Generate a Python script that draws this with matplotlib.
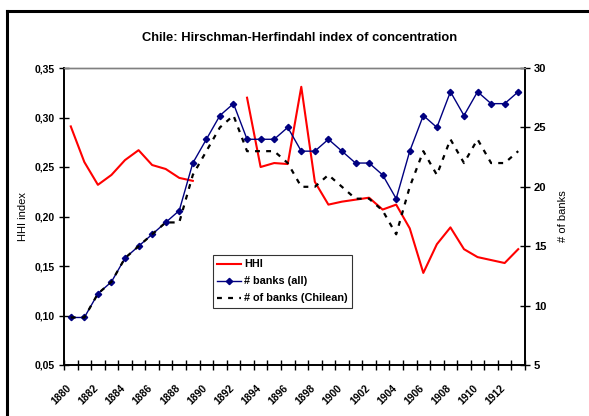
import matplotlib
matplotlib.use("Agg")
import matplotlib.pyplot as plt
import matplotlib.transforms as mtransforms
import numpy as np
from matplotlib.lines import Line2D

years = list(range(1880, 1914))
hhi = [0.291, 0.255, 0.232, 0.242, 0.257, 0.267, 0.252, 0.248, 0.239, 0.236,
       np.nan, np.nan, np.nan, 0.320, 0.250, 0.254, 0.253, 0.331, 0.235, 0.212,
       0.215, 0.217, 0.219, 0.207, 0.212, 0.188, 0.143, 0.172, 0.189, 0.167,
       0.159, 0.156, 0.153, 0.167]
banks_all = [9, 9, 11, 12, 14, 15, 16, 17, 18, 22, 24, 26, 27, 24, 24, 24, 25, 23,
             23, 24, 23, 22, 22, 21, 19, 23, 26, 25, 28, 26, 28, 27, 27, 28]
banks_chilean = [9, 9, 11, 12, 14, 15, 16, 17, 17, 21, 23, 25, 26, 23, 23, 23, 22, 20,
                 20, 21, 20, 19, 19, 18, 16, 20, 23, 21, 24, 22, 24, 22, 22, 23]
xlabels = [str(y) for y in years[::2]]
yticks_left = [0.05, 0.10, 0.15, 0.20, 0.25, 0.30, 0.35]
yticks_right = [5, 10, 15, 20, 25, 30]

plt.rcParams['font.family'] = ['Liberation Sans', 'DejaVu Sans']

fig = plt.figure(figsize=(5.89, 4.16), dpi=100)
W, H = 589, 416
L, R, T, B = 64, 525, 68, 365
ax = fig.add_axes([L / W, 1 - B / H, (R - L) / W, (B - T) / H])
ax2 = ax.twinx()

x = np.arange(len(years))
ax.plot(x, hhi, color='#FF0000', lw=1.5, label='HHI', zorder=3)
l2, = ax2.plot(x, banks_all, color='#000080', lw=1.0, marker='D', ms=3.2,
               label='# banks (all)', zorder=2)
l3, = ax2.plot(x, banks_chilean, color='black', lw=1.6, ls=(0, (2.2, 2.8)),
               label='# of banks (Chilean)', zorder=3)

ax.set_xlim(-0.5, len(years) - 0.5)
ax.set_ylim(0.05, 0.35)
ax2.set_ylim(5, 30)

ax.set_yticks(yticks_left)
ax.set_yticklabels([f"{v:.2f}".replace('.', ',') for v in yticks_left],
                   fontsize=7.5, fontweight='bold')
ax2.set_yticks(yticks_right)
ax2.set_yticklabels([str(v) for v in yticks_right], fontsize=8, fontweight='bold')

# category tick marks at boundaries, year labels every 2 years
ax.set_xticks(np.arange(-0.5, len(years), 1.0))
ax.set_xticklabels([])
ax.tick_params(axis='x', direction='inout', length=7, width=1)
ax.tick_params(axis='y', direction='inout', length=7, width=1, pad=3)
ax2.tick_params(axis='y', direction='inout', length=7, width=1, pad=3)

base = mtransforms.blended_transform_factory(ax.transData, ax.transAxes)
off = mtransforms.ScaledTranslation(-4.5 / 100, -18 / 100, fig.dpi_scale_trans)
for xi, lab in zip(x[::2], xlabels):
    ax.text(xi, 0, lab, transform=base + off, rotation=45, ha='right', va='top',
            rotation_mode='anchor', fontsize=7.5, fontweight='bold', clip_on=False)

for a in (ax, ax2):
    a.spines['top'].set_color('#808080')
    a.spines['top'].set_linewidth(1)
    for s in ('left', 'right', 'bottom'):
        a.spines[s].set_linewidth(1.2)
        a.spines[s].set_color('black')

ax.set_ylabel('HHI index', fontsize=8)
ax2.set_ylabel('# of banks', fontsize=8)
ax.yaxis.set_label_coords((28 - L) / (R - L), 0.5)
ax2.yaxis.set_label_coords((558 - L) / (R - L), 0.5)

fig.text(300 / W, 1 - 38 / H, 'Chile: Hirschman-Herfindahl index of concentration',
         ha='center', va='center', fontsize=9.3, fontweight='bold')

handles = [ax.get_lines()[0], l2, l3]
leg = fig.legend(handles, [h.get_label() for h in handles],
                 loc='upper left', bbox_to_anchor=(213 / W, 1 - 255 / H),
                 prop={'weight': 'bold', 'size': 7.8}, frameon=True,
                 fancybox=False, handlelength=2.2, handletextpad=0.25,
                 borderpad=0.4, labelspacing=0.65, borderaxespad=0)
leg.get_frame().set_edgecolor('black')
leg.get_frame().set_linewidth(0.8)

# outer chart border
fig.add_artist(Line2D([7 / W, 7 / W], [0, 1 - 11 / H], color='black', lw=2.2,
                      transform=fig.transFigure))
fig.add_artist(Line2D([7 / W, 1], [1 - 11 / H, 1 - 11 / H], color='black', lw=2.2,
                      transform=fig.transFigure))

fig.savefig('out.png', dpi=100)
